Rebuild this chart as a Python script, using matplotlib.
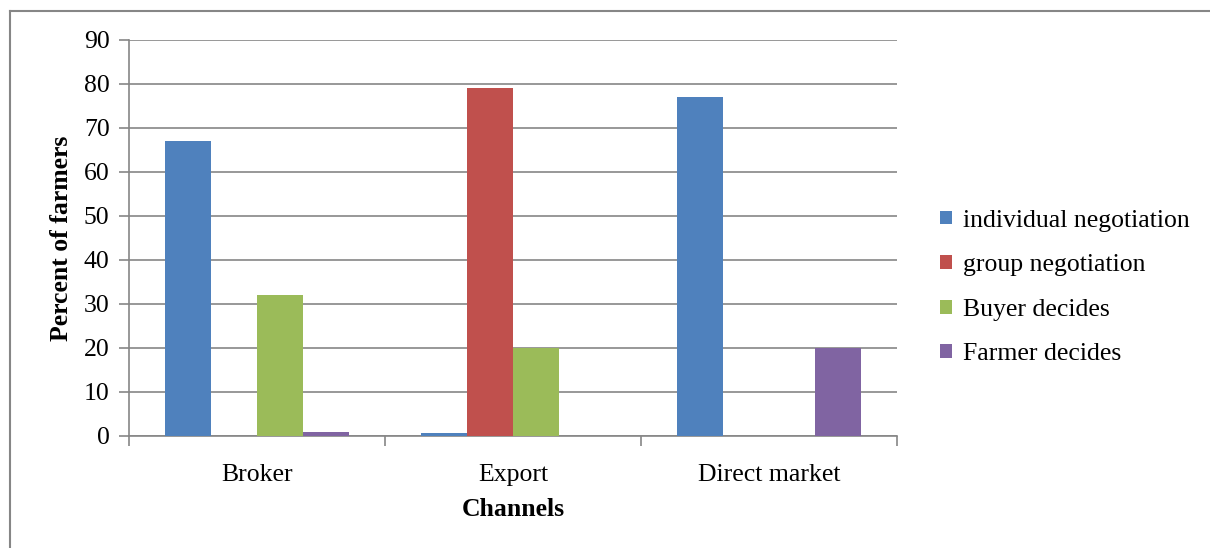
import matplotlib.pyplot as plt
import numpy as np
from matplotlib.lines import Line2D

channels = ["Broker", "Export", "Direct market"]
series_names = ["individual negotiation", "group negotiation", "Buyer decides", "Farmer decides"]
individual = [67, 0.6, 77]
group = [0, 79, 0]
buyer = [32, 20, 0]
farmer = [1, 0, 20]
colors = ["#4F81BD", "#C0504D", "#9BBB59", "#8064A2"]

plt.rcParams["font.family"] = ["Liberation Serif", "DejaVu Serif"]
FS = 18.5


def plot_data():
    fig = plt.figure(figsize=(12.1, 5.48), dpi=100)
    ax = fig.add_axes([129 / 1210, 1 - 436 / 548, (897 - 129) / 1210, (436 - 40) / 548])

    x = np.arange(len(channels))
    width = 0.18
    values = [individual, group, buyer, farmer]
    for i, (name, vals) in enumerate(zip(series_names, values)):
        ax.bar(x + (i - 1.5) * width, vals, width, color=colors[i], label=name, zorder=3)

    ax.set_xlim(-0.5, 2.5)
    ax.set_ylim(0, 90)
    ax.set_yticks(range(0, 91, 10))
    ax.set_xticks(x)
    ax.set_xticklabels(channels, fontsize=FS)
    ax.set_xticks([-0.5, 0.5, 1.5, 2.5], minor=True)
    ax.tick_params(axis="x", which="major", length=0, pad=20)
    ax.tick_params(axis="x", which="minor", length=7, color="#868686", width=1.2)
    ax.tick_params(axis="y", length=7, color="#868686", width=1.2, labelsize=FS, pad=7)

    ax.grid(axis="y", color="#868686", linewidth=1.2, zorder=0)
    for side in ["top", "right"]:
        ax.spines[side].set_visible(False)
    for side in ["left", "bottom"]:
        ax.spines[side].set_color("#868686")
        ax.spines[side].set_linewidth(1.2)

    ax.set_ylabel("Percent of farmers", fontsize=FS, fontweight="bold", labelpad=8)
    ax.set_xlabel("Channels", fontsize=FS, fontweight="bold", labelpad=9)

    ax.legend(loc="center left", bbox_to_anchor=(1.056, 0.375), frameon=False,
              fontsize=FS, handlelength=0.45, handleheight=0.45, handletextpad=0.45,
              labelspacing=0.88, borderpad=0, borderaxespad=0)

    # outer chart border (only top and left visible in crop)
    fig.add_artist(Line2D([10 / 1210, 10 / 1210], [0, 1 - 11 / 548], color="#868686", linewidth=1.5))
    fig.add_artist(Line2D([10 / 1210, 1], [1 - 11 / 548, 1 - 11 / 548], color="#868686", linewidth=1.5))

    fig.savefig("out.png", dpi=100)


def main():
    plot_data()


if __name__ == "__main__":
    main()
